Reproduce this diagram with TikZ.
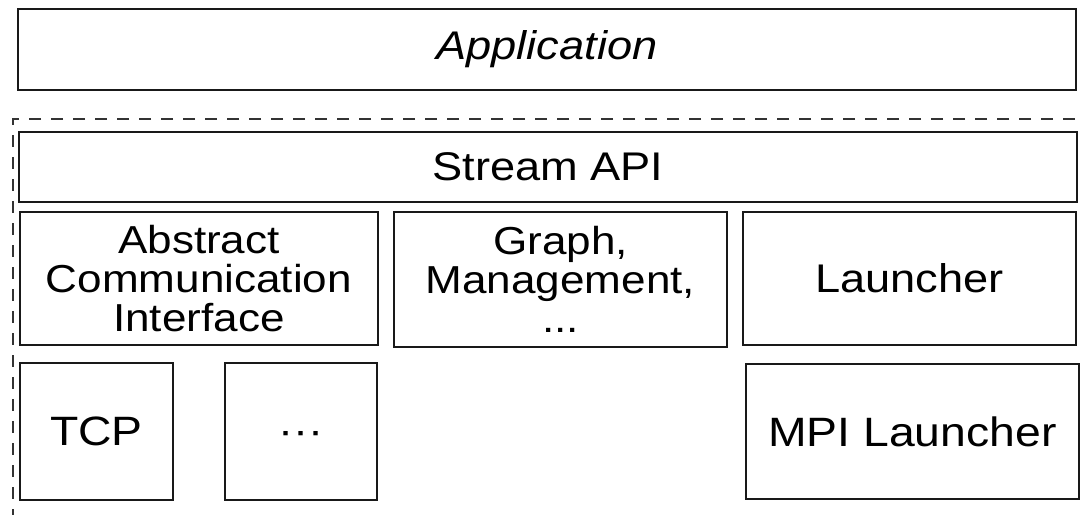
\documentclass[tikz,border=0pt]{standalone}
\usepackage{fontspec}
\setmainfont{Liberation Sans}
\newcommand{\hs}[1]{\scalebox{1.13}[1]{#1}}
\tikzset{
  box/.style={draw=black!90, line width=1.9pt, anchor=north west, inner sep=0pt, align=center},
  big/.style={font=\fontsize{40}{40}\selectfont},
  lay/.style={draw=black!80, line width=1.8pt, dash pattern=on 12pt off 10pt}
}
\begin{document}
\begin{tikzpicture}[x=1pt,y=-1pt]
\useasboundingbox (0,0) rectangle (1080,515);
\node[box,big,minimum width=1058pt,minimum height=81pt] (app) at (17,8) {\hs{\itshape Application}};
\coordinate (dr) at (1075,119);
\coordinate (dc) at (13,119);
\coordinate (db) at (13,515);
\draw[lay] (dr) -- (dc) -- (db);
\node[box,big,minimum width=1058pt,minimum height=70pt] (api) at (18,131) {\hs{Stream API}};
\node[box,font=\fontsize{39}{39}\selectfont,minimum width=358pt,minimum height=133pt] (aci) at (19,211) {\hs{Abstract}\\\hs{Communication}\\\hs{Interface}};
\node[box,font=\fontsize{39}{39}\selectfont,minimum width=333pt,minimum height=135pt] (graph) at (393,211) {\hs{Graph,}\\\hs{Management,}\\\hs{...}};
\node[box,big,minimum width=333pt,minimum height=133pt] (launch) at (742,211) {\hs{Launcher}};
\node[box,font=\fontsize{41}{41}\selectfont,minimum width=153pt,minimum height=137pt] (tcp) at (19,362) {\hs{TCP}};
\node[box,big,minimum width=152pt,minimum height=137pt] (dots) at (224,362) {\smash{\raisebox{-13pt}{\hs{···}}}};
\node[box,font=\fontsize{41}{41}\selectfont,minimum width=333pt,minimum height=135pt] (mpi) at (745,363) {\hs{MPI Launcher}};
\end{tikzpicture}
\end{document}
